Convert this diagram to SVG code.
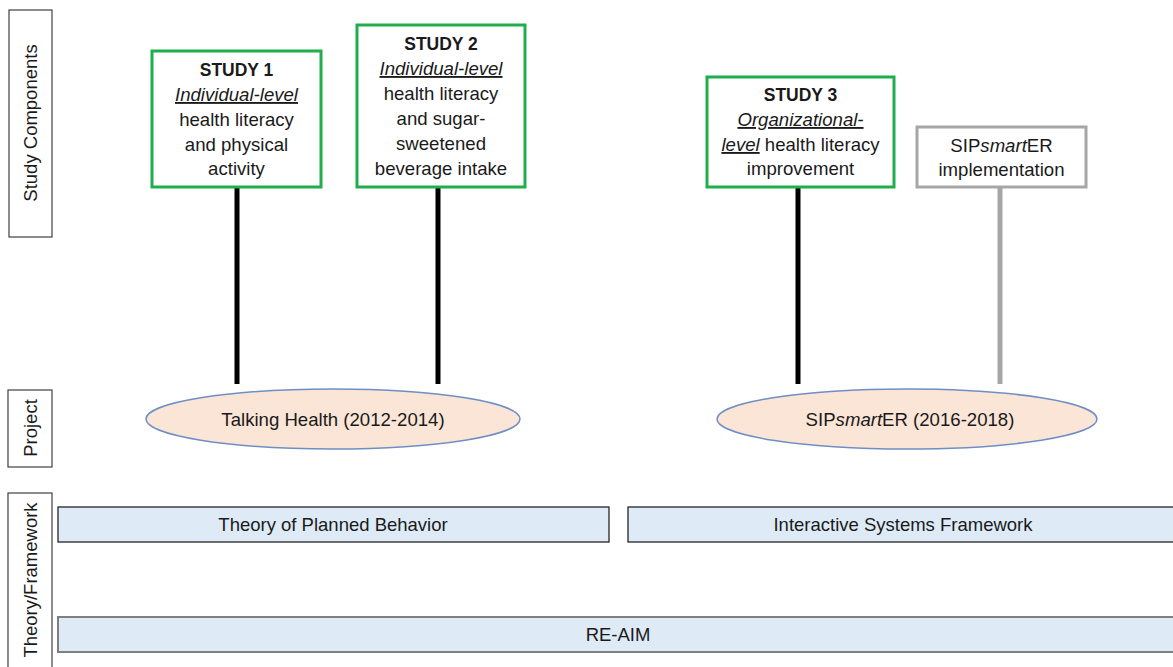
<svg xmlns="http://www.w3.org/2000/svg" width="1173" height="667" viewBox="0 0 1173 667">
<style>
text{font-family:"Liberation Sans",Arial,sans-serif;fill:#1a1a1a;text-anchor:middle}
.lbl{fill:#fff;stroke:#404040;stroke-width:1.2}
.ltxt{font-size:18.5px}
.study{fill:#fff;stroke:#1fae4b;stroke-width:3}
.impl{fill:#fff;stroke:#a6a6a6;stroke-width:3}
.bt{font-size:18.6px}
.b{font-weight:bold;font-size:17.5px}
.iu{font-style:italic;text-decoration:underline}
.it{font-style:italic}
.proj{fill:#fbe5d6;stroke:#6f8fc4;stroke-width:1.5}
.pt{font-size:18.6px}
.bar{fill:#deebf7;stroke:#262626;stroke-width:1.3}
.bar2{fill:#deebf7;stroke:#7f7f7f;stroke-width:2}
.bart{font-size:18.5px}
.conn{stroke:#000;stroke-width:5}
.conn2{stroke:#a6a6a6;stroke-width:5}
</style>
<rect width="1173" height="667" fill="#fff"/>

<g id="label-study-components">
<rect class="lbl" x="9" y="10" width="43" height="227"/>
<text class="ltxt" transform="translate(37,123) rotate(-90)">Study Components</text>
</g>
<g id="label-project">
<rect class="lbl" x="8" y="390" width="44" height="77"/>
<text class="ltxt" transform="translate(37,428) rotate(-90)">Project</text>
</g>
<g id="label-theory">
<rect class="lbl" x="8" y="493" width="44" height="180"/>
<text class="ltxt" transform="translate(37,580) rotate(-90)">Theory/Framework</text>
</g>

<g id="connectors">
<line class="conn" x1="237" y1="187" x2="237" y2="384"/>
<line class="conn" x1="438" y1="187" x2="438" y2="384"/>
<line class="conn" x1="798" y1="187" x2="798" y2="384"/>
<line class="conn2" x1="1000" y1="187" x2="1000" y2="384"/>
</g>

<g id="study1">
<rect class="study" x="152" y="51" width="169" height="136"/>
<text class="bt"><tspan class="b" x="236.5" y="76">STUDY 1</tspan><tspan class="iu" x="236.5" y="101">Individual-level</tspan><tspan x="236.5" y="126">health literacy</tspan><tspan x="236.5" y="151">and physical</tspan><tspan x="236.5" y="175">activity</tspan></text>
</g>

<g id="study2">
<rect class="study" x="357" y="25" width="168" height="162"/>
<text class="bt"><tspan class="b" x="441" y="50">STUDY 2</tspan><tspan class="iu" x="441" y="75">Individual-level</tspan><tspan x="441" y="100">health literacy</tspan><tspan x="441" y="125">and sugar-</tspan><tspan x="441" y="150">sweetened</tspan><tspan x="441" y="175">beverage intake</tspan></text>
</g>

<g id="study3">
<rect class="study" x="707" y="77" width="187" height="110"/>
<text class="bt"><tspan class="b" x="800.5" y="101">STUDY 3</tspan><tspan class="iu" x="800.5" y="126">Organizational-</tspan><tspan x="800.5" y="151"><tspan class="iu">level</tspan> health literacy</tspan><tspan x="800.5" y="175">improvement</tspan></text>
</g>

<g id="sipsmarter-impl">
<rect class="impl" x="917" y="127" width="169" height="60"/>
<text class="bt"><tspan x="1001.5" y="152">SIP<tspan class="it">smart</tspan>ER</tspan><tspan x="1001.5" y="176">implementation</tspan></text>
</g>

<g id="project-talking-health">
<ellipse class="proj" cx="333" cy="419" rx="187" ry="30"/>
<text class="pt" x="333" y="426">Talking Health (2012-2014)</text>
</g>

<g id="project-sipsmarter">
<ellipse class="proj" cx="907" cy="419" rx="190" ry="30"/>
<text class="pt" x="910" y="426">SIP<tspan class="it">smart</tspan>ER (2016-2018)</text>
</g>

<g id="theory-tpb">
<rect class="bar" x="58" y="507" width="551" height="35"/>
<text class="bart" x="333" y="531">Theory of Planned Behavior</text>
</g>

<g id="theory-isf">
<rect class="bar" x="628" y="507" width="550" height="35"/>
<text class="bart" x="903" y="531">Interactive Systems Framework</text>
</g>

<g id="theory-reaim">
<rect class="bar2" x="58" y="617" width="1120" height="35"/>
<text class="bart" x="618" y="641">RE-AIM</text>
</g>
</svg>
